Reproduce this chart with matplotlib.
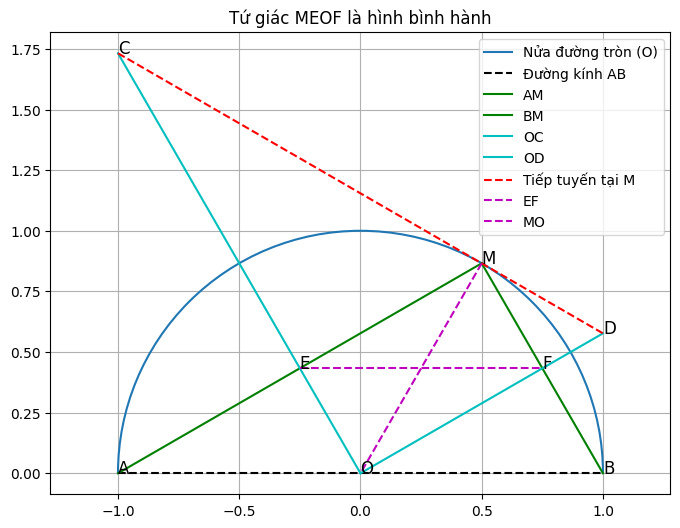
# -*- coding: utf-8 -*-
''' Library '''
import matplotlib
matplotlib.use('Agg')
import matplotlib.pyplot as plt
from matplotlib.patches import Arc

''' Data '''
center_x = 0.0
center_y = 0.0
radius = 1.0

point_names = ['A', 'B', 'O', 'M', 'C', 'D', 'E', 'F']
point_x = [-1.0, 1.0, 0.0, 0.5, -1.0, 1.0, -0.25, 0.75]
point_y = [0.0, 0.0, 0.0, 0.866, 1.732, 0.577, 0.433, 0.433]

segment_labels = ['Đường kính AB', 'AM', 'BM', 'OC', 'OD', 'Tiếp tuyến tại M', 'EF', 'MO']
segment_ends = ['AB', 'AM', 'BM', 'OC', 'OD', 'CD', 'EF', 'MO']
segment_styles = ['k--', 'g-', 'g-', 'c-', 'c-', 'r--', 'm--', 'm--']

''' Plot '''
Dict_X = dict(zip(point_names, point_x))
Dict_Y = dict(zip(point_names, point_y))

fig, ax = plt.subplots(figsize=(8, 6))
# half circle as a real arc, empty line only for the legend entry
ax.plot([], [], 'C0-', label='Nửa đường tròn (O)')
ax.add_patch(Arc((center_x, center_y), 2 * radius, 2 * radius, theta1=0, theta2=180,
                 color='C0', lw=1.5, zorder=2))
for label, ends, style in zip(segment_labels, segment_ends, segment_styles):
    ax.plot([Dict_X[ends[0]], Dict_X[ends[1]]], [Dict_Y[ends[0]], Dict_Y[ends[1]]], style, label=label)

for name, x, y in zip(point_names, point_x, point_y):
    ax.text(x, y, name, fontsize=12)

ax.set_title('Tứ giác MEOF là hình bình hành')
ax.axis('equal')
ax.grid(True)
ax.legend()
plt.savefig('out.png', dpi=100, bbox_inches='tight')
